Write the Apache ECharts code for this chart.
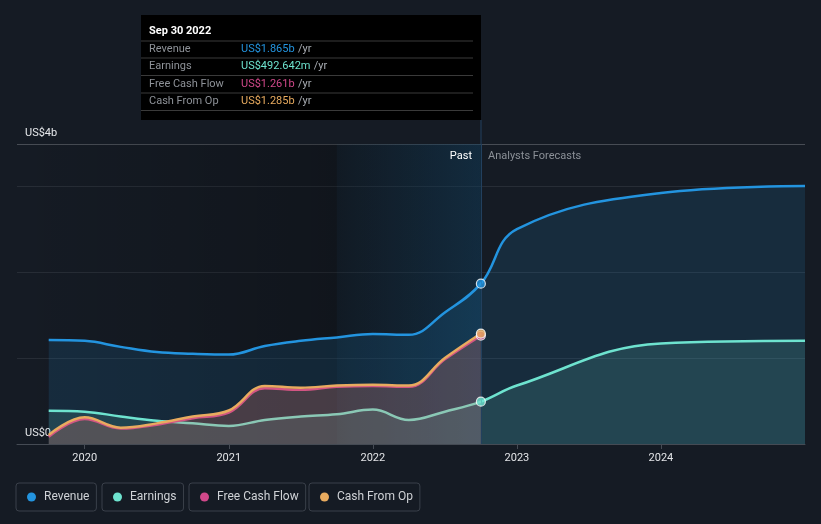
<!DOCTYPE html>
<html>
<head>
<meta charset="utf-8">
<script src="https://cdn.jsdelivr.net/npm/echarts@6/dist/echarts.min.js"></script>
<style>
html,body{margin:0;padding:0;background:#151b24;}
#chart{width:821px;height:524px;}
</style>
</head>
<body>
<div id="chart"></div>
<script>
// ---- data (values in US$ billions) ----
var pastDates = ['2019-09-30','2019-12-31','2020-03-31','2020-06-30','2020-09-30','2020-12-31','2021-03-31','2021-06-30','2021-09-30','2021-12-31','2022-03-31','2022-06-30','2022-09-30'];
var forecastDates = ['2022-12-31','2023-12-31','2024-12-31'];
var revenuePast = [1.21,1.20,1.13,1.07,1.05,1.04,1.14,1.20,1.24,1.28,1.27,1.53,1.865];
var revenueForecast = [2.50,2.92,3.00];
var earningsPast = [0.387,0.376,0.32,0.27,0.24,0.21,0.28,0.32,0.345,0.40,0.28,0.376,0.492642];
var earningsForecast = [0.68,1.17,1.20];
var fcfPast = [0.085,0.29,0.18,0.225,0.30,0.365,0.65,0.63,0.665,0.675,0.665,0.985,1.261];
var cfoPast = [0.105,0.31,0.19,0.24,0.32,0.39,0.675,0.655,0.68,0.69,0.68,1.00,1.285];
var xTickValues = [2020,2021,2022,2023,2024];
var yTickLabels = ['US$0','US$4b'];
var seriesNames = ['Revenue','Earnings','Free Cash Flow','Cash From Op'];
var tooltipTitle = 'Sep 30 2022';

// ---- helpers ----
var colors = ['#2394df','#6ee3cf','#d0488a','#e8ab5f'];
var X_MIN = 2019.53, X_MAX = 2025.0, Y_MAX = 3.49;
function toYear(d){ var p = d.split('-'); return +p[0] + (+p[1])/12; }
var lastPastX = toYear(pastDates[pastDates.length-1]);
var highlightStart = lastPastX - 1;

function buildData(dates, vals){
  return vals.map(function(v,i){ return [toYear(dates[i]), v]; });
}
function fmt(v){
  if (v >= 1) return 'US$' + v.toFixed(3) + 'b';
  return 'US$' + (v*1000).toFixed(3) + 'm';
}

function lineSeries(name, data, color, z){
  return {
    name: name, type: 'line', data: data, z: z,
    smooth: 0.4,
    symbol: 'none', showSymbol: false,
    lineStyle: { color: color, width: 2.5 },
    itemStyle: { color: color },
    areaStyle: { color: color, opacity: 0.14 },
    emphasis: { disabled: true },
    animation: false
  };
}

var pastSets = [revenuePast, earningsPast, fcfPast, cfoPast];
var pastSeries = [
  buildData(pastDates, revenuePast).concat(buildData(forecastDates, revenueForecast)),
  buildData(pastDates, earningsPast).concat(buildData(forecastDates, earningsForecast)),
  buildData(pastDates, fcfPast),
  buildData(pastDates, cfoPast)
];

var chart = echarts.init(document.getElementById('chart'), null, { renderer: 'canvas' });

var legendLefts = [16, 102, 189, 309];
var legendBoxes = legendLefts.map(function(left, i){
  return {
    data: [{ name: seriesNames[i], icon: 'circle' }],
    left: left, top: 483,
    orient: 'horizontal',
    itemWidth: 9, itemHeight: 9,
    padding: [8, 7, 8, 11],
    borderColor: '#3a404a', borderWidth: 1, borderRadius: 3,
    selectedMode: false,
    textStyle: { color: '#cfd2d6', fontSize: 12, fontFamily: 'Roboto', padding: [0,0,0,3] }
  };
});

var rowY = [49, 66.5, 84, 101];
var rowVals = pastSets.map(function(a){ return a[a.length-1]; });
var tipChildren = [
  { type: 'rect', shape: { x: 141, y: 15, width: 340, height: 105 }, style: { fill: '#000000' } },
  { type: 'text', x: 149, y: 31, style: { text: tooltipTitle, fill: '#ffffff', font: 'bold 11px Roboto', verticalAlign: 'middle' } }
];
[41, 58, 75.5, 93, 110.5].forEach(function(y){
  tipChildren.push({ type: 'line', shape: { x1: 141, y1: y, x2: 473, y2: y }, style: { stroke: '#3a3a3a', lineWidth: 1 } });
});
seriesNames.forEach(function(n, i){
  tipChildren.push({ type: 'text', x: 149, y: rowY[i], style: { text: n, fill: '#8e9298', font: '11px Roboto', verticalAlign: 'middle' } });
  tipChildren.push({ type: 'text', x: 241, y: rowY[i], style: {
    text: '{v|' + fmt(rowVals[i]) + '} {u|/yr}',
    verticalAlign: 'middle',
    rich: { v: { fill: colors[i], font: '11px Roboto' }, u: { fill: '#a8acb2', font: '11px Roboto' } }
  } });
});

var series = [
  {
    name: '_bg', type: 'line', data: [], z: 0, silent: true,
    markArea: {
      silent: true,
      data: [
        [ { xAxis: X_MIN, itemStyle: { color: { type: 'linear', x: 0, y: 0, x2: 1, y2: 0,
            colorStops: [ { offset: 0, color: 'rgba(0,0,0,0)' }, { offset: 1, color: 'rgba(0,0,0,0.32)' } ] } } },
          { xAxis: lastPastX } ],
        [ { xAxis: highlightStart, itemStyle: { color: { type: 'linear', x: 0, y: 0, x2: 1, y2: 0,
            colorStops: [ { offset: 0, color: 'rgba(35,148,223,0.04)' }, { offset: 1, color: 'rgba(35,148,223,0.19)' } ] } } },
          { xAxis: lastPastX } ]
      ]
    },
    markLine: {
      silent: true, symbol: ['none','none'], label: { show: false },
      lineStyle: { color: '#22405e', width: 1, type: 'solid' },
      data: [ { xAxis: lastPastX } ]
    }
  }
];
seriesNames.forEach(function(n, i){ series.push(lineSeries(n, pastSeries[i], colors[i], 2 + i)); });
// highlighted markers at the last reported period
series.push({
  name: '_markers', type: 'scatter', z: 20, silent: true,
  symbol: 'circle', symbolSize: 9,
  data: pastSets.map(function(a, i){
    return { value: [lastPastX, a[a.length-1]], itemStyle: { color: colors[i], borderColor: '#ffffff', borderWidth: 1.2 } };
  }),
  animation: false
});

var option = {
  backgroundColor: '#151b24',
  animation: false,
  grid: { left: 17, right: 16, top: 144, bottom: 80, containLabel: false },
  legend: legendBoxes,
  xAxis: {
    type: 'value', min: X_MIN, max: X_MAX,
    axisLine: { show: true, lineStyle: { color: '#454b54', width: 1 } },
    axisTick: { show: true, customValues: xTickValues, length: 5, lineStyle: { color: '#454b54' } },
    axisLabel: { customValues: xTickValues, color: '#e2e4e7', fontSize: 11, fontFamily: 'Roboto', margin: 9,
      formatter: function(v){ return String(Math.round(v)); } },
    splitLine: { show: false }
  },
  yAxis: [
    {
      type: 'value', min: 0, max: Y_MAX, interval: 1,
      axisLine: { show: false }, axisTick: { show: false }, axisLabel: { show: false },
      splitLine: { show: true, lineStyle: { color: '#272d36', width: 1 } }
    },
    {
      type: 'value', min: 0, max: Y_MAX, interval: Y_MAX, position: 'left',
      axisLine: { show: false }, axisTick: { show: false },
      axisLabel: { inside: true, margin: 8, verticalAlign: 'bottom', padding: [0,0,5,0],
        color: '#e6e8eb', fontSize: 11, fontFamily: 'Roboto',
        formatter: function(v){ return v === 0 ? yTickLabels[0] : yTickLabels[1]; } },
      splitLine: { show: true, lineStyle: { color: '#474c54', width: 1 } }
    }
  ],
  graphic: [
    { type: 'group', children: tipChildren, z: 100 },
    { type: 'line', shape: { x1: 481, y1: 120, x2: 481, y2: 144 }, style: { stroke: '#22405e', lineWidth: 1 }, z: 50 },
    { type: 'text', x: 472, y: 156, style: { text: 'Past', fill: '#ffffff', font: '11px Roboto', align: 'right', verticalAlign: 'middle' }, z: 50 },
    { type: 'text', x: 488, y: 156, style: { text: 'Analysts Forecasts', fill: '#8b9097', font: '11px Roboto', align: 'left', verticalAlign: 'middle' }, z: 50 }
  ],
  series: series
};
chart.setOption(option);
</script>
</body>
</html>
